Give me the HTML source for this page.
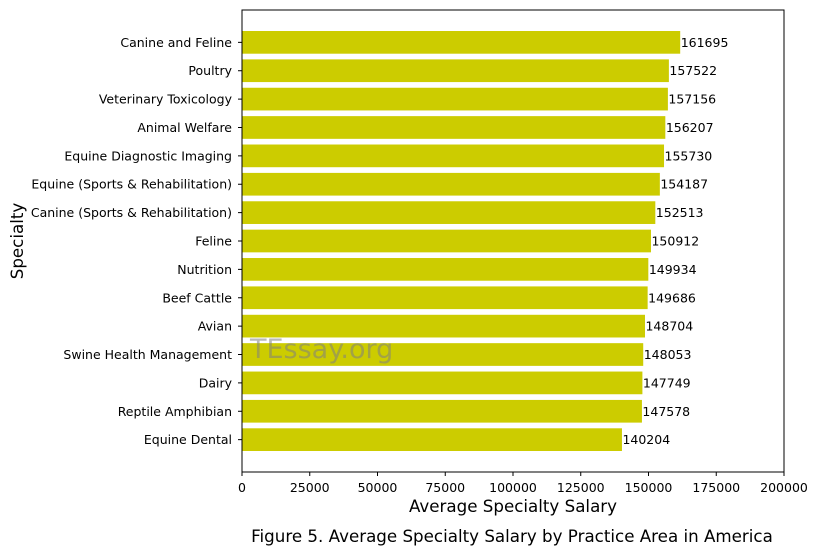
<!DOCTYPE html>
<html><head><meta charset="utf-8"><style>
body{margin:0;background:#fff;width:818px;height:555px;overflow:hidden;font-family:"DejaVu Sans","Liberation Sans",sans-serif}
</style></head><body>
<svg id="chart" width="818" height="555" font-family="DejaVu Sans, Liberation Sans, sans-serif"></svg>
<script>
const categories=["Canine and Feline","Poultry","Veterinary Toxicology","Animal Welfare","Equine Diagnostic Imaging","Equine (Sports & Rehabilitation)","Canine (Sports & Rehabilitation)","Feline","Nutrition","Beef Cattle","Avian","Swine Health Management","Dairy","Reptile Amphibian","Equine Dental"];
const salaries=[161695,157522,157156,156207,155730,154187,152513,150912,149934,149686,148704,148053,147749,147578,140204];
const xTicks=[0,25000,50000,75000,100000,125000,150000,175000,200000];
const svg=document.getElementById('chart');
const NS='http://www.w3.org/2000/svg';
const L=242,R=784,T=10,B=472;
const n=categories.length;
const yMin=-0.4-0.74,yMax=(n-1)+0.4+0.74;
const x=v=>L+(v/200000)*(R-L);
const y=i=>T+(yMax-i)*(B-T)/(yMax-yMin);
function mk(tag,attrs,text){const e=document.createElementNS(NS,tag);for(const k in attrs)e.setAttribute(k,attrs[k]);if(text!==undefined)e.textContent=text;svg.appendChild(e);return e;}
categories.forEach((c,k)=>{
  const i=n-1-k;const yc=y(i);const h=0.8*(B-T)/(yMax-yMin);
  const r=mk('rect',{x:x(0),y:yc-h/2,width:x(salaries[k])-x(0),height:h,fill:'#cccc00'});
  
  
  const v=mk('text',{x:x(salaries[k])+0.5,y:yc+4.5,'font-size':12.5,fill:'#000'},String(salaries[k]));
  
  
  const t=mk('text',{x:L-10,y:yc+4.5,'font-size':12.5,'text-anchor':'end',fill:'#000'},c);
  
  
  mk('line',{x1:L-4,x2:L,y1:yc,y2:yc,stroke:'#000'});
});
xTicks.forEach(v=>{
  mk('line',{x1:x(v),x2:x(v),y1:B,y2:B+4,stroke:'#000'});
  const t=mk('text',{x:x(v),y:B+20,'font-size':12.5,'text-anchor':'middle'},String(v));
  
  
});
const frame=mk('rect',{x:L,y:T,width:R-L,height:B-T,fill:'none',stroke:'#000','stroke-width':1});


const wm=mk('text',{x:250,y:358,'font-size':27,fill:'#808080','fill-opacity':0.55},'TEssay.org');


const xt=mk('text',{x:513,y:512,'font-size':16.7,'text-anchor':'middle'},'Average Specialty Salary');


const yt=mk('text',{x:23,y:241,'font-size':16.7,'text-anchor':'middle',transform:'rotate(-90 23 241)'},'Specialty');


const cap=mk('text',{x:512,y:542,'font-size':16.7,'text-anchor':'middle'},'Figure 5. Average Specialty Salary by Practice Area in America');


</script>
</body></html>
